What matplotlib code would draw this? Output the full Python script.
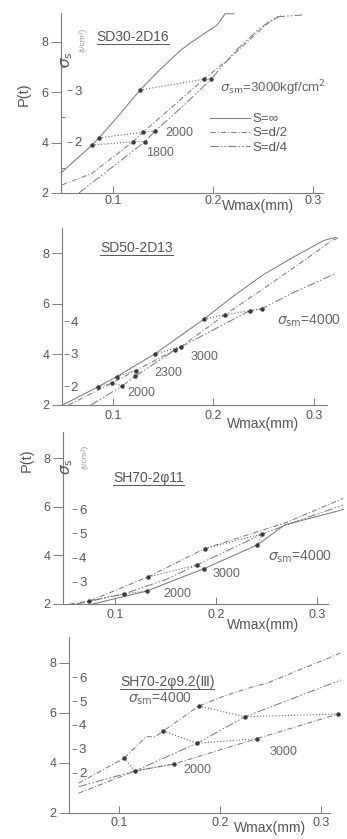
import matplotlib.pyplot as plt

plt.rcParams['font.family'] = ['Liberation Sans', 'DejaVu Sans']
plt.rcParams['mathtext.fontset'] = 'dejavusans'

# ---- SD30-2D16 (top panel) ----
p1_inf_w = [0.048, 0.079, 0.086, 0.104, 0.127, 0.147, 0.167, 0.177, 0.204, 0.212, 0.221]
p1_inf_p = [2.80, 3.90, 4.19, 5.00, 6.09, 6.90, 7.65, 7.95, 8.67, 9.12, 9.12]
p1_d2_w = [0.049, 0.079, 0.120, 0.130, 0.160, 0.191, 0.215, 0.237, 0.255, 0.268]
p1_d2_p = [2.32, 2.78, 4.04, 4.41, 5.45, 6.52, 7.30, 8.10, 8.75, 9.05]
p1_d4_w = [0.066, 0.100, 0.132, 0.142, 0.170, 0.198, 0.224, 0.247, 0.264, 0.289]
p1_d4_p = [2.00, 3.05, 4.04, 4.46, 5.45, 6.52, 7.70, 8.55, 9.00, 9.07]
p1_s1800_w = [0.079, 0.120, 0.132]
p1_s1800_p = [3.90, 4.04, 4.04]
p1_s2000_w = [0.086, 0.130, 0.142]
p1_s2000_p = [4.19, 4.41, 4.46]
p1_s3000_w = [0.127, 0.191, 0.198]
p1_s3000_p = [6.09, 6.52, 6.52]

# ---- SD50-2D13 ----
p2_a_w = [0.050, 0.0847, 0.1037, 0.1418, 0.1905, 0.220, 0.249, 0.280, 0.310, 0.322]
p2_a_p = [2.00, 2.71, 3.12, 4.02, 5.39, 6.30, 7.13, 7.85, 8.50, 8.62]
p2_b_w = [0.056, 0.0993, 0.1226, 0.1677, 0.2114, 0.250, 0.290, 0.318, 0.326]
p2_b_p = [2.00, 2.87, 3.36, 4.30, 5.56, 6.60, 7.70, 8.50, 8.62]
p2_c_w = [0.078, 0.1093, 0.122, 0.1617, 0.236, 0.248, 0.280, 0.322]
p2_c_p = [2.00, 2.75, 3.13, 4.17, 5.72, 5.80, 6.45, 7.20]
p2_s2000_w = [0.0847, 0.0993, 0.1093]
p2_s2000_p = [2.71, 2.87, 2.75]
p2_s2300_w = [0.1037, 0.1226, 0.122]
p2_s2300_p = [3.12, 3.36, 3.13]
p2_s3000_w = [0.1418, 0.1677, 0.1617]
p2_s3000_p = [4.02, 4.30, 4.17]
p2_s4000_w = [0.1905, 0.2114, 0.236, 0.248]
p2_s4000_p = [5.39, 5.56, 5.72, 5.80]

# ---- SH70-2φ11 ----
p3_a_w = [0.055, 0.0746, 0.133, 0.189, 0.269, 0.326]
p3_a_p = [2.00, 2.12, 3.12, 4.28, 5.34, 6.34]
p3_b_w = [0.062, 0.1092, 0.150, 0.181, 0.246, 0.290, 0.326]
p3_b_p = [2.00, 2.42, 3.00, 3.60, 4.88, 5.55, 6.07]
p3_c_w = [0.078, 0.1314, 0.160, 0.188, 0.241, 0.268, 0.326]
p3_c_p = [2.00, 2.53, 3.00, 3.45, 4.43, 5.25, 5.88]
p3_s2000_w = [0.0746, 0.1092, 0.1314]
p3_s2000_p = [2.12, 2.42, 2.53]
p3_s3000_w = [0.133, 0.181, 0.188]
p3_s3000_p = [3.12, 3.60, 3.45]
p3_s4000_w = [0.189, 0.246, 0.241]
p3_s4000_p = [4.28, 4.88, 4.43]

# ---- SH70-2φ9.2(III) ----
p4_a_w = [0.060, 0.105, 0.127, 0.136, 0.1439, 0.1792, 0.207, 0.233, 0.246, 0.319]
p4_a_p = [3.19, 4.19, 5.05, 5.05, 5.28, 6.28, 6.72, 7.05, 7.18, 8.39]
p4_b_w = [0.060, 0.1158, 0.1775, 0.2248, 0.320]
p4_b_p = [3.05, 3.68, 4.79, 5.85, 7.32]
p4_c_w = [0.060, 0.1158, 0.1545, 0.2363, 0.3171]
p4_c_p = [2.79, 3.68, 3.96, 4.97, 5.96]
p4_s2000_w = [0.105, 0.1158, 0.1545]
p4_s2000_p = [4.19, 3.68, 3.96]
p4_s3000_w = [0.1439, 0.1775, 0.2363]
p4_s3000_p = [5.28, 4.79, 4.97]
p4_s4000_w = [0.1792, 0.2248, 0.3171]
p4_s4000_p = [6.28, 5.85, 5.96]

w_ticks = [0.1, 0.2, 0.3]
w_labels = ['0.1', '0.2', '0.3']
p_ticks = [2, 4, 6, 8]

LINE = '#7c7c7c'
TXT = '#555555'
DOT = '#3a3a3a'
SOLID = '-'
DASHDOT = (0, (5, 2, 1, 2))
DASHDOT2 = (0, (8, 2, 1.5, 2, 1.5, 2))

fig = plt.figure(figsize=(3.47, 8.39), dpi=100)


def make_axes(rect, xlim, ylim, xpad):
    ax = fig.add_axes(rect)
    ax.set_xlim(xlim)
    ax.set_ylim(ylim)
    ax.patch.set_alpha(0)
    for s in ['top', 'right']:
        ax.spines[s].set_visible(False)
    for s in ['left', 'bottom']:
        ax.spines[s].set_color(LINE)
        ax.spines[s].set_linewidth(0.8)
    ax.set_xticks(w_ticks)
    ax.set_xticklabels(w_labels)
    ax.set_yticks(p_ticks)
    ax.tick_params(axis='y', direction='out', length=7, width=0.7, pad=2,
                   labelsize=9, color=LINE, labelcolor=TXT)
    ax.tick_params(axis='x', direction='in', length=5, width=0.7, pad=xpad,
                   labelsize=9, color=LINE, labelcolor=TXT)
    return ax


def add_sec(ax, loc, a, b, ticks):
    sec = ax.secondary_yaxis(loc, functions=(lambda p: (p - b) / a, lambda s: a * s + b))
    sec.set_alignment('right')
    sec.spines['right'].set_visible(False)
    sec.set_yticks(ticks)
    sec.tick_params(direction='out', length=3.5, width=0.7, pad=1.5,
                    labelsize=9.5, color=LINE, labelcolor=TXT)
    return sec


def curve(ax, w, p, ls, label=None):
    return ax.plot(w, p, linestyle=ls, color=LINE, lw=0.75, clip_on=False, label=label)[0]


def connector(ax, w, p):
    ax.plot(w, p, linestyle=(0, (1, 1.8)), color='#666666', lw=0.8, marker='o',
            ms=2.2, mfc=DOT, mec=DOT, clip_on=False)


def title(ax, x, y, s):
    t = ax.text(x, y, s, fontsize=10, color=TXT, ha='left', va='center')
    fig.canvas.draw()
    bb = t.get_window_extent().transformed(ax.transData.inverted())
    ax.plot([bb.x0, bb.x1], [bb.y0, bb.y0], color=TXT, lw=0.7)
    ax.set_ylim(ax.get_ylim())


def note(ax, x, y, s, size=9):
    ax.text(x, y, s, fontsize=size, color='#666666', ha='left', va='center')


def wlabel(ax, x, y):
    ax.text(x, y, 'Wmax(mm)', transform=ax.transAxes, fontsize=10, color=TXT,
            ha='center', va='center')


# ---- panel 1 ----
ax1 = make_axes([0.1758, 0.7700, 0.7550, 0.2145], (0.048, 0.31), (2, 9.15), 1.5)
h1 = curve(ax1, p1_inf_w, p1_inf_p, SOLID, 'S=∞')
h2 = curve(ax1, p1_d2_w, p1_d2_p, DASHDOT, 'S=d/2')
h3 = curve(ax1, p1_d4_w, p1_d4_p, DASHDOT2, 'S=d/4')
connector(ax1, p1_s1800_w, p1_s1800_p)
connector(ax1, p1_s2000_w, p1_s2000_p)
connector(ax1, p1_s3000_w, p1_s3000_p)
ax1.set_yticks([3, 5, 7], minor=True)
ax1.tick_params(axis='y', which='minor', direction='in', length=3, width=0.7, color=LINE)
add_sec(ax1, 0.023, 2.05, -0.06, [2, 3])
note(ax1, 0.152, 4.37, '2000')
note(ax1, 0.133, 3.58, '1800')
note(ax1, 0.207, 6.15, r'$\sigma_{\rm sm}$=3000kgf/cm$^2$', 9.5)
title(ax1, 0.0837, 8.2, 'SD30-2D16')
ax1.text(-0.141, 0.55, 'P(t)', transform=ax1.transAxes, rotation=90, fontsize=10.5,
         color=TXT, ha='center', va='center')
ax1.text(0.023, 0.739, r'$\sigma_{\rm s}$', transform=ax1.transAxes, rotation=90,
         fontsize=11, color=TXT, ha='center', va='center')
ax1.text(0.084, 0.85, '(t/cm²)', transform=ax1.transAxes, rotation=90,
         fontsize=6, color='#9a9a9a', ha='center', va='center')
ax1.legend(handles=[h1, h2, h3], loc='upper left', bbox_to_anchor=(0.569, 0.445),
           frameon=False, fontsize=9.5, handlelength=3.0, handletextpad=0.2,
           labelspacing=0.15, borderpad=0, borderaxespad=0, labelcolor=TXT)
wlabel(ax1, 0.752, -0.075)

# ---- panel 2 ----
ax2 = make_axes([0.1787, 0.5173, 0.7637, 0.2110], (0.0493, 0.313), (2, 8.99), 3.5)
curve(ax2, p2_a_w, p2_a_p, SOLID)
curve(ax2, p2_b_w, p2_b_p, DASHDOT)
curve(ax2, p2_c_w, p2_c_p, DASHDOT2)
connector(ax2, p2_s2000_w, p2_s2000_p)
connector(ax2, p2_s2300_w, p2_s2300_p)
connector(ax2, p2_s3000_w, p2_s3000_p)
connector(ax2, p2_s4000_w, p2_s4000_p)
add_sec(ax2, 0.006, 1.285, 0.17, [2, 3, 4])
note(ax2, 0.1146, 2.46, '2000')
note(ax2, 0.141, 3.25, '2300')
note(ax2, 0.177, 3.91, '3000')
note(ax2, 0.263, 5.32, r'$\sigma_{\rm sm}$=4000', 10)
title(ax2, 0.087, 8.19, 'SD50-2D13')
wlabel(ax2, 0.758, -0.11)

# ---- panel 3 ----
ax3 = make_axes([0.1816, 0.2801, 0.7637, 0.2050], (0.0485, 0.311), (2, 9.07), 3.5)
curve(ax3, p3_a_w, p3_a_p, DASHDOT)
curve(ax3, p3_b_w, p3_b_p, DASHDOT2)
curve(ax3, p3_c_w, p3_c_p, SOLID)
connector(ax3, p3_s2000_w, p3_s2000_p)
connector(ax3, p3_s3000_w, p3_s3000_p)
connector(ax3, p3_s4000_w, p3_s4000_p)
add_sec(ax3, 0.034, 0.99, -0.05, [3, 4, 5, 6])
note(ax3, 0.148, 2.40, '2000')
note(ax3, 0.197, 3.23, '3000')
note(ax3, 0.252, 3.94, r'$\sigma_{\rm sm}$=4000', 10)
title(ax3, 0.098, 7.17, 'SH70-2φ11')
ax3.text(-0.136, 0.837, 'P(t)', transform=ax3.transAxes, rotation=90, fontsize=10.5,
         color=TXT, ha='center', va='center')
ax3.text(0.015, 0.80, r'$\sigma_{\rm s}$', transform=ax3.transAxes, rotation=90,
         fontsize=11, color=TXT, ha='center', va='center')
ax3.text(0.083, 0.855, '(t/cm²)', transform=ax3.transAxes, rotation=90,
         fontsize=6, color='#9a9a9a', ha='center', va='center')
wlabel(ax3, 0.755, -0.12)

# ---- panel 4 ----
ax4 = make_axes([0.1988, 0.0310, 0.7522, 0.2098], (0.0505, 0.309), (2, 9.04), 3)
curve(ax4, p4_a_w, p4_a_p, DASHDOT)
curve(ax4, p4_b_w, p4_b_p, DASHDOT2)
curve(ax4, p4_c_w, p4_c_p, DASHDOT)
connector(ax4, p4_s2000_w, p4_s2000_p)
connector(ax4, p4_s3000_w, p4_s3000_p)
connector(ax4, p4_s4000_w, p4_s4000_p)
add_sec(ax4, 0.0115, 0.955, 1.70, [2, 3, 4, 5, 6])
note(ax4, 0.1637, 3.72, '2000')
note(ax4, 0.2495, 4.45, '3000')
note(ax4, 0.109, 6.55, r'$\sigma_{\rm sm}$=4000', 10)
title(ax4, 0.101, 7.25, 'SH70-2φ9.2(Ⅲ)')
wlabel(ax4, 0.77, -0.085)

fig.savefig('out.png', dpi=100)
